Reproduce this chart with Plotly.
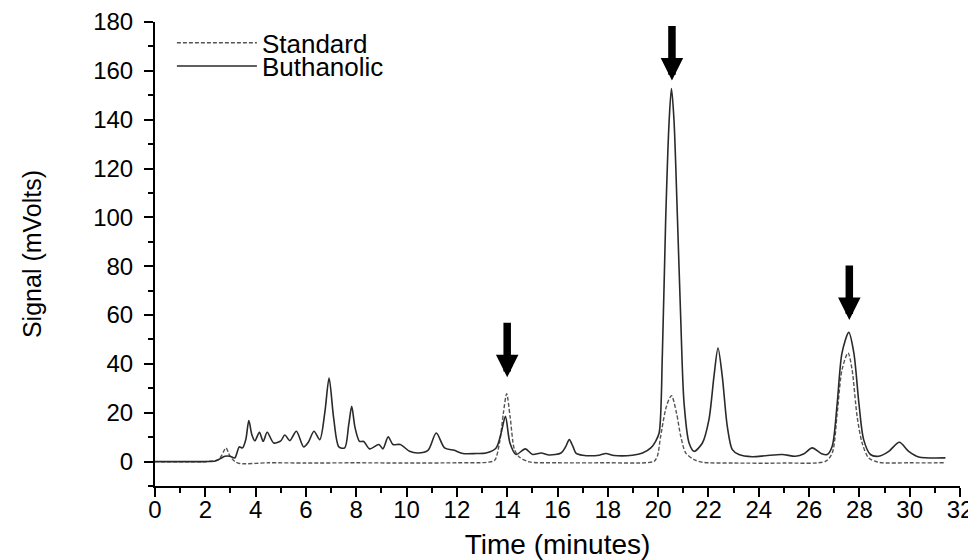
import plotly.graph_objects as go

# --- data ---
buth_t = [0, 1.0, 2.0, 2.4, 2.58, 2.78, 2.98, 3.17, 3.35, 3.48, 3.61, 3.73, 3.85, 3.97,
          4.15, 4.3, 4.46, 4.72, 5.0, 5.16, 5.36, 5.62, 5.91, 6.1, 6.32, 6.55, 6.75, 6.92,
          7.1, 7.31, 7.54, 7.7, 7.82, 7.95, 8.13, 8.3, 8.53, 8.9, 9.06, 9.27, 9.46, 9.75,
          10.12, 10.45, 10.85, 11.18, 11.51, 11.9, 12.24, 12.77, 13.16, 13.56, 13.76, 13.93,
          14.11, 14.35, 14.72, 15.01, 15.35, 15.67, 16.14, 16.32, 16.47, 16.62, 16.73, 17.0,
          17.66, 17.92, 18.25, 18.98, 19.38, 19.71, 19.9, 20.04, 20.17, 20.3, 20.44, 20.53,
          20.63, 20.77, 20.9, 21.03, 21.23, 21.43, 21.76, 22.02, 22.22, 22.38, 22.55, 22.75,
          22.95, 23.21, 23.74, 24.27, 24.93, 25.46, 25.8, 26.12, 26.5, 26.72, 26.92, 27.12,
          27.31, 27.58, 27.78, 27.98, 28.17, 28.44, 28.77, 29.17, 29.59, 29.96, 30.36, 31.42]
buth_v = [0, 0, 0, 0.2, 1.1, 2.2, 2.2, 1.5, 6.0, 5.6, 9, 16.8, 11, 8.5,
          12, 8.3, 12, 7.6, 8.5, 10.9, 8.6, 12.4, 6, 8, 12.4, 9, 20, 34.2,
          18, 6, 5.6, 15, 22.6, 14, 8.3, 8.2, 5.2, 7, 5.2, 10.1, 7, 7,
          4.2, 3.5, 4.6, 11.7, 5.6, 4.6, 3.3, 3.3, 3.5, 5.6, 11.7, 18.5,
          7.6, 2.9, 5.2, 2.9, 3.5, 2.7, 3.5, 6, 9, 6, 3.5, 2.6,
          2.6, 3.3, 2.5, 2.6, 3.5, 5.6, 8.3, 11.7, 44.5, 99, 140, 152.8,
          140, 99, 58, 24, 7.6, 4.2, 7.6, 17.2, 34.9, 46.5, 34.9, 14.4,
          4.9, 2.9, 2.0, 2.4, 2.9, 2.2, 3.2, 5.6, 3.2, 2.9, 6.3, 24,
          44.5, 52.9, 44.5, 24, 9, 2.9, 2.2, 4.2, 7.9, 4.2, 1.9, 1.5]

std_t = [0, 2.0, 2.51, 2.65, 2.82, 2.98, 3.17, 3.37, 4.5, 6, 8, 10, 12, 13.2, 13.5, 13.7,
         13.85, 13.98, 14.12, 14.29, 14.48, 14.88, 16, 18, 19.5, 19.84, 19.97, 20.1, 20.33,
         20.53, 20.73, 20.9, 21.1, 21.43, 21.76, 23, 25, 26.65, 26.92, 27.12, 27.31, 27.55,
         27.71, 27.91, 28.11, 28.37, 28.77, 30, 31.42]
std_v = [0, 0, 0.8, 2.5, 5.6, 2.2, 0.1, -0.8, -0.5, -0.6, -0.5, -0.6, -0.5, -0.3, 0.5, 8,
         20, 27.8, 18, 4.9, 1.9, -0.1, -0.5, -0.5, -0.5, 0.1, 2.2, 10.3, 22.6,
         27, 19.9, 10.3, 3.5, 0.8, -0.3, -0.6, -0.6, 0.1, 3.5, 19.9, 37.6, 44.5,
         37.6, 18.5, 7.6, 1.5, -0.3, -0.5, -0.5]

arrow_times = [14.0, 20.55, 27.6]
arrow_tips = [34.5, 156.0, 58.0]

x_range = [0, 32]
y_range = [-10, 180]

FONT = "Liberation Sans, Arial, sans-serif"

fig = go.Figure()
fig.add_trace(go.Scatter(x=std_t, y=std_v, mode="lines", name="Standard", legend="legend",
                         line=dict(color="#555555", width=1.4, dash="4px,2px",
                                   shape="spline", smoothing=0.8)))
fig.add_trace(go.Scatter(x=buth_t, y=buth_v, mode="lines", name="Buthanolic", legend="legend2",
                         line=dict(color="#2a2a2a", width=1.6,
                                   shape="spline", smoothing=0.8)))

for t, v in zip(arrow_times, arrow_tips):
    fig.add_annotation(x=t, y=v, xref="x", yref="y", ax=0, ay=-56, text="",
                       showarrow=True, arrowhead=2, arrowsize=0.6, arrowwidth=7.5,
                       arrowcolor="black")

legend_common = dict(xanchor="left", yanchor="middle", bgcolor="rgba(0,0,0,0)",
                     font=dict(size=26, family=FONT, color="black"), itemwidth=80)

# page body has an 8px margin, so the figure is 8px smaller than the window
fig.update_layout(
    width=968, height=552,
    margin=dict(l=147, r=16, t=14, b=74, autoexpand=False),
    paper_bgcolor="white", plot_bgcolor="white",
    font=dict(family=FONT, size=24, color="black"),
    showlegend=True,
    legend=dict(x=0.021, y=0.955, **legend_common),
    legend2=dict(x=0.021, y=0.905, **legend_common),
    xaxis=dict(range=x_range, showgrid=False, zeroline=False, automargin=False,
               showline=True, linecolor="black", linewidth=2,
               ticks="outside", ticklen=9, tickwidth=2, tickcolor="black",
               tick0=0, dtick=2, ticklabelstandoff=-8,
               minor=dict(ticks="outside", ticklen=5, tickwidth=2, dtick=1, tickcolor="black"),
               title=dict(text="Time (minutes)", font=dict(size=28, family=FONT), standoff=18),
               tickfont=dict(size=24, family=FONT)),
    yaxis=dict(range=y_range, showgrid=False, zeroline=False, automargin=False,
               showline=True, linecolor="black", linewidth=2,
               ticks="outside", ticklen=9, tickwidth=2, tickcolor="black",
               tick0=0, dtick=20, ticklabelstandoff=6,
               minor=dict(ticks="outside", ticklen=5, tickwidth=2, tick0=0, dtick=10, tickcolor="black"),
               title=dict(text="Signal (mVolts)",
                          font=dict(size=25, family="Liberation Sans Narrow, Arial Narrow, Liberation Sans"),
                          standoff=44),
               tickfont=dict(size=24, family=FONT)),
)

fig.write_html("out.html")
